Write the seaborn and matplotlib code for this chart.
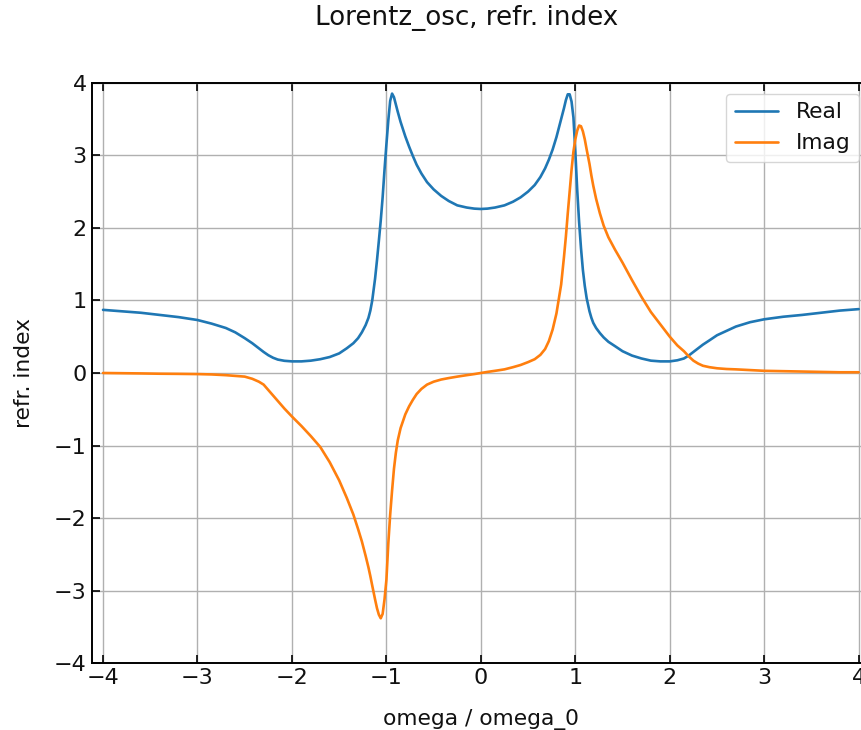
import numpy as np
import pandas as pd
import seaborn as sns
import matplotlib
matplotlib.use("Agg")
import matplotlib.pyplot as plt

# Frequency axis (omega / omega_0), negative half then positive half
omega_neg = [-4.0, -3.8, -3.6, -3.4, -3.2, -3.0, -2.85, -2.7, -2.6, -2.5,
             -2.42, -2.35, -2.3, -2.25, -2.2, -2.15, -2.08, -2.0, -1.9, -1.8,
             -1.7, -1.6, -1.5, -1.42, -1.35, -1.3, -1.26, -1.22, -1.19, -1.17,
             -1.15, -1.12, -1.1, -1.08, -1.06, -1.04, -1.02, -1.0, -0.98, -0.96,
             -0.94, -0.92, -0.9, -0.88, -0.85, -0.8, -0.76, -0.72, -0.68, -0.63,
             -0.57, -0.5, -0.42, -0.34, -0.25, -0.15, -0.07, 0.0]
omega_pos = [0.07, 0.15, 0.25, 0.34, 0.42, 0.5, 0.57, 0.63, 0.68, 0.72,
             0.76, 0.8, 0.85, 0.88, 0.9, 0.92, 0.94, 0.96, 0.98, 1.0,
             1.02, 1.04, 1.06, 1.08, 1.1, 1.12, 1.15, 1.17, 1.19, 1.22,
             1.26, 1.3, 1.35, 1.42, 1.5, 1.6, 1.7, 1.8, 1.9, 2.0,
             2.08, 2.15, 2.2, 2.25, 2.3, 2.35, 2.42, 2.5, 2.6, 2.7,
             2.85, 3.0, 3.2, 3.4, 3.6, 3.8, 4.0]

# Real part of the refractive index
real_neg = [0.87, 0.85, 0.83, 0.80, 0.77, 0.73, 0.68, 0.62, 0.56, 0.48,
            0.41, 0.34, 0.29, 0.245, 0.21, 0.185, 0.168, 0.16, 0.16, 0.17,
            0.19, 0.22, 0.27, 0.34, 0.41, 0.48, 0.56, 0.66, 0.76, 0.86,
            1.00, 1.30, 1.55, 1.82, 2.10, 2.42, 2.80, 3.15, 3.48, 3.75,
            3.85, 3.80, 3.70, 3.60, 3.46, 3.26, 3.12, 2.99, 2.87, 2.75,
            2.63, 2.53, 2.44, 2.37, 2.31, 2.28, 2.265, 2.26]
real_pos = [2.265, 2.28, 2.31, 2.36, 2.42, 2.50, 2.59, 2.70, 2.82, 2.94,
            3.08, 3.25, 3.50, 3.65, 3.76, 3.84, 3.84, 3.74, 3.52, 3.05,
            2.52, 2.08, 1.72, 1.42, 1.20, 1.03, 0.85, 0.76, 0.69, 0.62,
            0.55, 0.49, 0.43, 0.37, 0.30, 0.24, 0.20, 0.17, 0.16, 0.16,
            0.175, 0.20, 0.24, 0.29, 0.34, 0.39, 0.45, 0.52, 0.58, 0.64,
            0.70, 0.74, 0.775, 0.80, 0.83, 0.86, 0.88]

# Imaginary part of the refractive index
imag_neg = [0.0, -0.003, -0.006, -0.01, -0.012, -0.015, -0.02, -0.03, -0.04, -0.05,
            -0.08, -0.12, -0.16, -0.235, -0.31, -0.385, -0.49, -0.60, -0.73, -0.87,
            -1.02, -1.23, -1.48, -1.72, -1.95, -2.15, -2.32, -2.52, -2.68, -2.80,
            -2.93, -3.12, -3.24, -3.33, -3.38, -3.32, -3.12, -2.85, -2.35, -1.95,
            -1.62, -1.32, -1.10, -0.93, -0.76, -0.57, -0.46, -0.37, -0.29, -0.22,
            -0.16, -0.12, -0.09, -0.07, -0.05, -0.03, -0.015, 0.0]
imag_pos = [0.015, 0.03, 0.05, 0.08, 0.11, 0.15, 0.19, 0.25, 0.33, 0.44,
            0.60, 0.82, 1.22, 1.60, 1.88, 2.20, 2.50, 2.80, 3.05, 3.22,
            3.34, 3.41, 3.40, 3.33, 3.22, 3.08, 2.88, 2.72, 2.58, 2.40,
            2.20, 2.03, 1.87, 1.70, 1.52, 1.28, 1.05, 0.84, 0.67, 0.50,
            0.38, 0.30, 0.23, 0.17, 0.13, 0.10, 0.08, 0.065, 0.055, 0.05,
            0.04, 0.03, 0.025, 0.02, 0.015, 0.01, 0.01]

df = pd.DataFrame({
    "omega": omega_neg + omega_pos,
    "Real": real_neg + real_pos,
    "Imag": imag_neg + imag_pos,
})
long = df.melt(id_vars="omega", var_name="part", value_name="n")

sns.set_style("ticks")
plt.rcParams["font.family"] = ["DejaVu Sans"]
plt.rcParams["text.color"] = "#111111"
plt.rcParams["axes.labelcolor"] = "#111111"
plt.rcParams["xtick.color"] = "black"
plt.rcParams["ytick.color"] = "black"

fig = plt.figure(figsize=(8.61, 7.30), dpi=100)
ax = fig.add_axes([0.1065, 0.0914, 0.904, 0.7953])

sns.lineplot(data=long, x="omega", y="n", hue="part", hue_order=["Real", "Imag"],
             palette=["#1f77b4", "#ff7f0e"], linewidth=1.9, ax=ax, sort=True)

ax.set_xlim(-4.12, 4.12)
ax.set_ylim(-4, 4)
ax.set_xticks([-4, -3, -2, -1, 0, 1, 2, 3, 4])
ax.set_yticks([-4, -3, -2, -1, 0, 1, 2, 3, 4])
ax.grid(True, color="#b0b0b0", linewidth=1.0)
ax.tick_params(direction="in", top=True, right=True, length=5.5, width=1.2,
               labelsize=16, labelcolor="#111111")
for s in ax.spines.values():
    s.set_linewidth(1.4)
    s.set_color("black")

ax.set_xlabel("omega / omega_0", fontsize=15.7)
ax.set_ylabel("refr. index", fontsize=15.7)
ax.xaxis.set_label_coords(0.5, -0.079)
ax.yaxis.set_label_coords(-0.074, 0.5)
ax.legend(loc="upper right", fontsize=15.7, title=None, framealpha=0.8)

fig.suptitle("Lorentz_osc, refr. index", x=467 / 861, y=1 - 18 / 730,
             va="center", fontsize=18.8)

fig.savefig("out.png", dpi=100)
